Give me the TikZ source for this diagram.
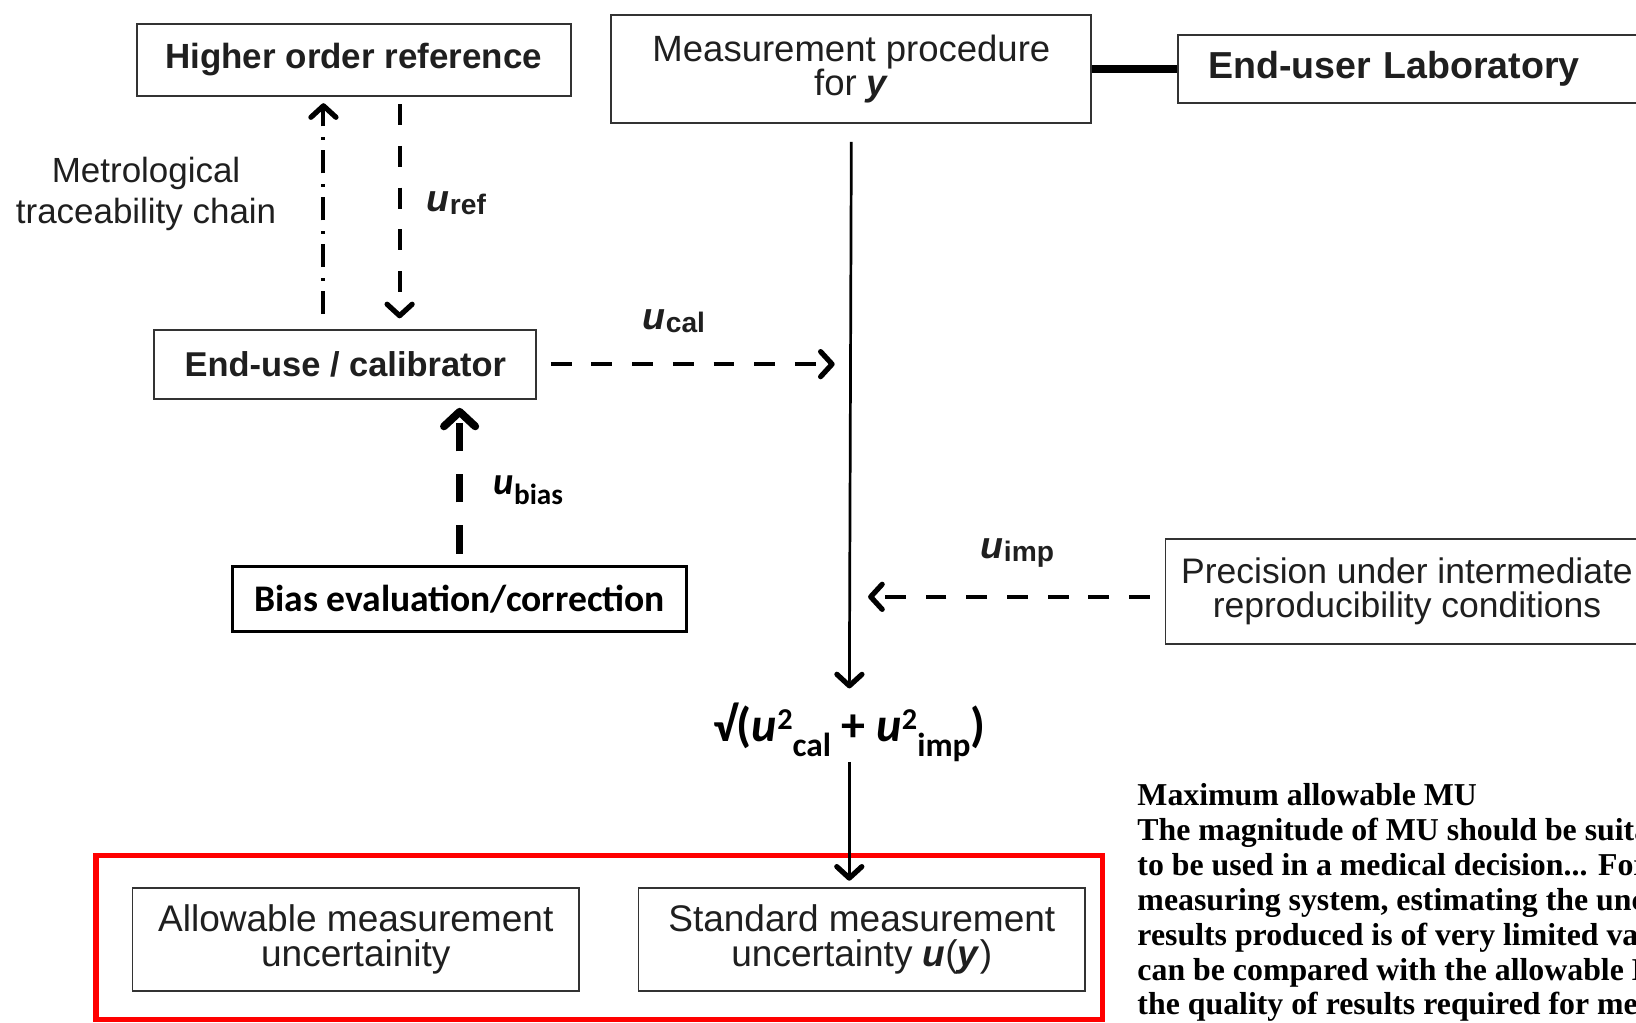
\documentclass[tikz,border=0pt]{standalone}
\usepackage{fontspec}
\setmainfont{Liberation Sans}
\newfontfamily\carl{Carlito}
\newfontfamily\serfam{Liberation Serif}
\usetikzlibrary{arrows.meta}
\newcommand{\fs}[1]{\fontsize{#1}{#1}\selectfont}
\begin{document}
\begin{tikzpicture}[x=1pt,y=-1pt,
  box/.style={draw=black!80, line width=1.8pt, fill=white, align=center, inner sep=0pt,
    font=\fontsize{34}{33}\selectfont, text=black!88},
  bbox/.style={box, font=\fontsize{33.5}{33}\selectfont\bfseries},
  lab/.style={inner sep=0pt, font=\fontsize{33.5}{40}\selectfont, text=black!88, align=center},
  ulab/.style={inner sep=0pt, text=black!88, font=\fs{36}},
  tip/.style={-{Straight Barb[length=11pt,width=24pt,line width=5pt,round]}},
  dsh/.style={line width=4pt, dash pattern=on 20pt off 20pt},
  hdsh/.style={line width=4pt, dash pattern=on 20pt off 19pt},
]
\useasboundingbox (0,0) rectangle (1568,980);
\fill[white] (0,0) rectangle (1568,980);
\begin{scope}
\clip (0,0) rectangle (1568,980);

% top row
\node[bbox, minimum width=416pt, minimum height=69pt] (hor) at (339,57.5) {Higher order reference};
\node[box, font=\fontsize{35}{33}\selectfont, minimum width=460pt, minimum height=104pt] (mp) at (816,66) {Measurement procedure\\for \textbf{\textit{y}}};
\node[bbox, font=\fontsize{36}{33}\selectfont\bfseries, anchor=west, minimum height=65pt, text width=450pt, inner xsep=29pt, align=left] (eul) at (1128,66) {End-user Laboratory};
\draw[line width=7pt] (mp.east) -- (eul.west);

% left column
\node[lab] (mtc) at (140,186) {Metrological\\traceability chain};
\node[bbox, font=\fontsize{33}{33}\selectfont\bfseries, minimum width=366pt, minimum height=66pt] (ecal) at (331,349) {End-use / calibrator};

\draw[tip, line width=3.8pt, dash pattern=on 22pt off 10pt on 3pt off 10pt]
  ([xshift=-21pt,yshift=14pt]ecal.north) -- ([xshift=-29pt,yshift=-6pt]hor.south);
\draw[tip, dsh] ([xshift=44pt,yshift=-7pt]hor.south) -- ([xshift=52pt,yshift=10pt]ecal.north);
\node[ulab, anchor=west] (uref) at (409,195) {\textbf{\textit{u}}\raisebox{-3pt}{\fs{27}\textbf{ref}}};

% bias
\node[draw=black, line width=3pt, fill=white, inner sep=0pt, minimum width=435pt, minimum height=62pt,
  font=\carl\bfseries\fontsize{36}{36}\selectfont] (bias) at (440.5,574) {Bias evaluation/correction};
\draw[line width=7pt, dash pattern=on 27pt off 22pt, -{Straight Barb[length=14pt,width=30pt,line width=7.5pt,round]}]
  ([yshift=11pt]bias.north) -- ([yshift=-8pt]bias.north |- ecal.south);
\node[inner sep=0pt, anchor=west, font=\carl\bfseries\fontsize{37}{37}\selectfont] (ubias) at (473,470)
  {\textit{u}\raisebox{-10pt}{\fs{28}bias}};

% formula
\node[inner sep=0pt, font=\carl\bfseries\fontsize{46}{46}\selectfont] (f) at (814,702)
  {√(\textit{u}\raisebox{12pt}{\fs{29}2}\raisebox{-14pt}{\fs{32}cal} + \textit{u}\raisebox{12pt}{\fs{29}2}\raisebox{-14pt}{\fs{32}imp})};

% main line
\draw[line width=2.6pt, tip, shorten <=17pt, shorten >=14pt] (mp.south) -- (f.north);

% u_cal
\draw[tip, hdsh, shorten <=13pt, shorten >=16pt] (ecal.east) -- (ecal.east -| mp.south);
\node[ulab, anchor=west] (ucal) at (616,308) {\textbf{\textit{u}}\raisebox{-3pt}{\fs{27}\textbf{cal}}};

% precision / u_imp
\node[box, minimum width=463pt, minimum height=100pt] (prec) at (1348.5,567) {Precision under intermediate\\reproducibility conditions};
\draw[tip, hdsh, shorten <=14pt, shorten >=16pt] ([yshift=-5pt]prec.west) -- ([yshift=-5pt]prec.west -| mp.south);
\node[ulab, anchor=west] (uimp) at (940,530) {\textbf{\textit{u}}\raisebox{-3pt}{\fs{27}\textbf{imp}}};

% bottom group
\node[draw=red, line width=5pt, inner sep=0pt, minimum width=965pt, minimum height=157pt] (grp) at (574.5,898.5) {};
\node[box, font=\fontsize{35.5}{33}\selectfont, minimum width=428pt, minimum height=99pt] (allow) at (341,900.5) {Allowable measurement\\uncertainity};
\node[box, font=\fontsize{35.5}{33}\selectfont, minimum width=428pt, minimum height=99pt] (std) at (826,900.5) {Standard measurement\\uncertainty \textbf{\textit{u}}(\textbf{\textit{y}})};
\draw[line width=2.6pt, tip, shorten >=6pt] (f.south) -- (f.south |- std.north);

% text block
\node[anchor=north west, inner sep=0pt, align=left, font=\serfam\bfseries\fontsize{30.5}{33.4}\selectfont] (mu) at (1090,751)
  {Maximum allowable MU\\
   The magnitude of MU should be suita\\
   to be used in a medical decision... For\\
   measuring system, estimating the unc\\
   results produced is of very limited va\\
   can be compared with the allowable M\\
   the quality of results required for me};
\end{scope}
\end{tikzpicture}
\end{document}
